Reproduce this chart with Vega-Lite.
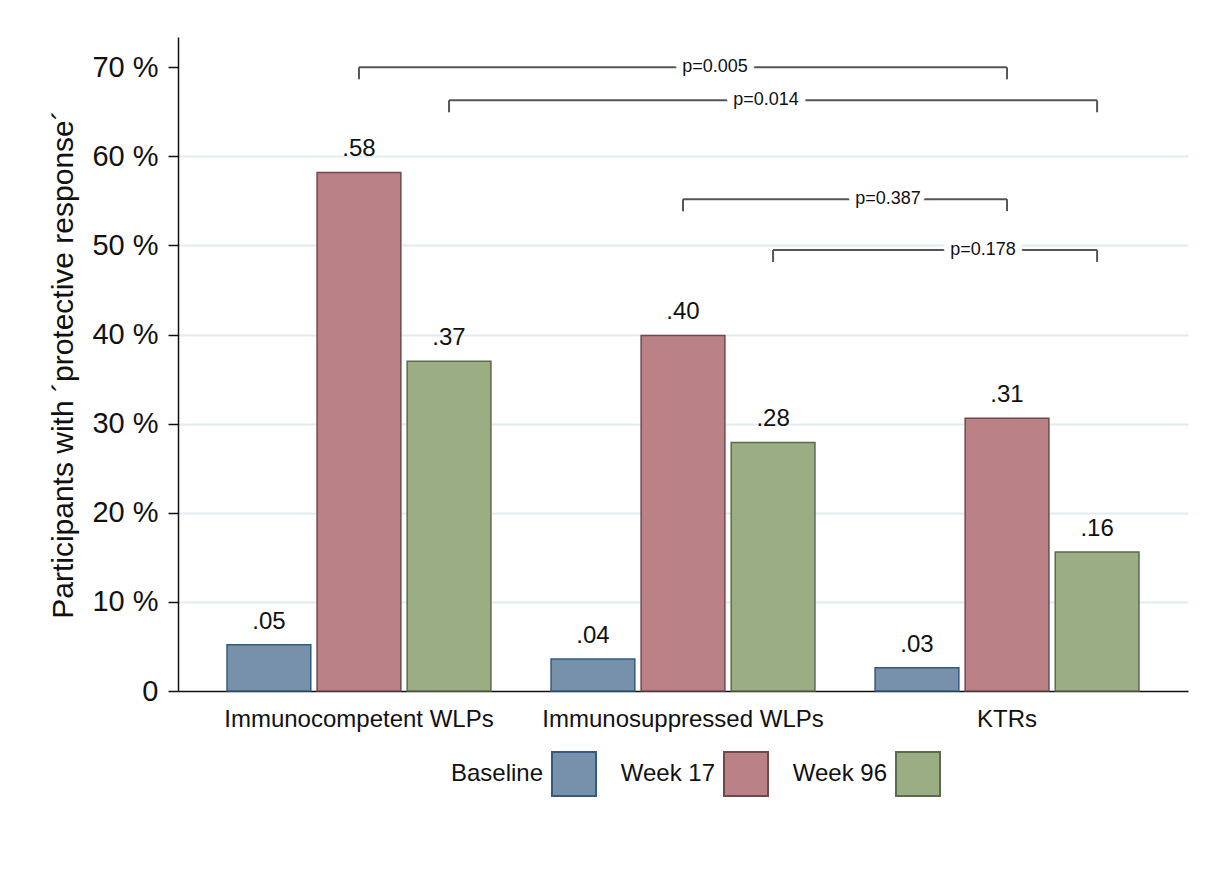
{
  "$schema": "https://vega.github.io/schema/vega-lite/v6.json",
  "width": 1010,
  "height": 654,
  "autosize": {"type": "none"},
  "padding": {"left": 178, "top": 37, "right": 23, "bottom": 191},
  "background": "white",
  "config": {
    "font": "Liberation Sans",
    "view": {"stroke": null}
  },
  "datasets": {
    "shares": [
      {"Group": "Immunocompetent WLPs", "Period": "Baseline", "Share": 0.052},
      {"Group": "Immunocompetent WLPs", "Period": "Week 17", "Share": 0.582},
      {"Group": "Immunocompetent WLPs", "Period": "Week 96", "Share": 0.370},
      {"Group": "Immunosuppressed WLPs", "Period": "Baseline", "Share": 0.036},
      {"Group": "Immunosuppressed WLPs", "Period": "Week 17", "Share": 0.399},
      {"Group": "Immunosuppressed WLPs", "Period": "Week 96", "Share": 0.279},
      {"Group": "KTRs", "Period": "Baseline", "Share": 0.026},
      {"Group": "KTRs", "Period": "Week 17", "Share": 0.306},
      {"Group": "KTRs", "Period": "Week 96", "Share": 0.156}
    ],
    "brackets": [
      {"bracket": "B1", "Group": "Immunocompetent WLPs", "Period": "Week 17", "level": 0.700},
      {"bracket": "B1", "Group": "KTRs", "Period": "Week 17", "level": 0.700},
      {"bracket": "B2", "Group": "Immunocompetent WLPs", "Period": "Week 96", "level": 0.663},
      {"bracket": "B2", "Group": "KTRs", "Period": "Week 96", "level": 0.663},
      {"bracket": "B3", "Group": "Immunosuppressed WLPs", "Period": "Week 17", "level": 0.552},
      {"bracket": "B3", "Group": "KTRs", "Period": "Week 17", "level": 0.552},
      {"bracket": "B4", "Group": "Immunosuppressed WLPs", "Period": "Week 96", "level": 0.495},
      {"bracket": "B4", "Group": "KTRs", "Period": "Week 96", "level": 0.495}
    ],
    "pvalues": [
      {"bracket": "B1", "p": "p=0.005", "Group": "Immunosuppressed WLPs", "Period": "Week 17", "level": 0.700},
      {"bracket": "B2", "p": "p=0.014", "Group": "Immunosuppressed WLPs", "Period": "Week 96", "level": 0.663},
      {"bracket": "B3", "p": "p=0.387", "Group": "KTRs", "Period": "Baseline", "level": 0.552},
      {"bracket": "B4", "p": "p=0.178", "Group": "KTRs", "Period": "Week 17", "level": 0.495}
    ]
  },
  "layer": [
    {
      "data": {"name": "shares"},
      "mark": {"type": "bar", "strokeWidth": 1.5},
      "encoding": {
        "x": {
          "field": "Group", "type": "nominal", "sort": null,
          "scale": {"paddingInner": 0.18, "paddingOuter": 0.1485},
          "axis": {
            "title": null, "labelAngle": 0, "labelFontSize": 24, "labelColor": "#111", "labelLimit": 500,
            "ticks": false, "labelPadding": 16, "domainColor": "#111", "domainWidth": 1.5
          }
        },
        "xOffset": {
          "field": "Period", "type": "nominal", "sort": null,
          "scale": {"paddingInner": 0.07, "paddingOuter": 0.01}
        },
        "y": {
          "field": "Share", "type": "quantitative",
          "scale": {"domain": [0, 0.734], "nice": false, "zero": true},
          "axis": {
            "title": "Participants with ´protective response´",
            "titleFontSize": 30, "titleFontWeight": "normal", "titleColor": "#111", "titlePadding": 13,
            "values": [0, 0.1, 0.2, 0.3, 0.4, 0.5, 0.6, 0.7],
            "labelExpr": "datum.value == 0 ? '0' : format(datum.value * 100, '.0f') + ' %'",
            "labelFontSize": 29, "labelColor": "#111", "labelPadding": 10,
            "tickSize": 10, "tickColor": "#111", "tickWidth": 1.5,
            "domainColor": "#111", "domainWidth": 1.5,
            "grid": true, "gridColor": "#e2ecef", "gridWidth": 2,
            "gridOpacity": {"condition": {"test": "datum.value == 0 || datum.value > 0.65", "value": 0}, "value": 1}
          }
        },
        "color": {
          "field": "Period", "type": "nominal",
          "scale": {"domain": ["Baseline", "Week 17", "Week 96"], "range": ["#7891aa", "#ba8286", "#9bad82"]},
          "legend": {
            "title": null, "orient": "none", "legendX": 373, "legendY": 714,
            "direction": "horizontal", "symbolType": "square", "symbolSize": 1936,
            "symbolStrokeWidth": 2, "symbolOpacity": 1,
            "labelFontSize": 24, "labelColor": "#111", "labelAlign": "right", "labelOffset": -54,
            "columnPadding": 20, "padding": 0, "labelLimit": 300
          }
        },
        "stroke": {
          "field": "Period", "type": "nominal",
          "scale": {"domain": ["Baseline", "Week 17", "Week 96"], "range": ["#335a80", "#6e4a4d", "#5d6a4e"]}
        }
      }
    },
    {
      "data": {"name": "shares"},
      "transform": [{"calculate": "substring(format(datum.Share, '.2f'), 1)", "as": "Label"}],
      "mark": {"type": "text", "fontSize": 24, "color": "#111", "baseline": "alphabetic", "dy": -16},
      "encoding": {
        "x": {"field": "Group", "type": "nominal", "sort": null},
        "xOffset": {"field": "Period", "type": "nominal", "sort": null},
        "y": {"field": "Share", "type": "quantitative", "scale": {"domain": [0, 0.734], "nice": false}},
        "text": {"field": "Label"}
      }
    },
    {
      "data": {"name": "brackets"},
      "mark": {"type": "line", "color": "#555", "strokeWidth": 2},
      "encoding": {
        "x": {"field": "Group", "type": "nominal", "sort": null},
        "xOffset": {"field": "Period", "type": "nominal", "sort": null},
        "y": {"field": "level", "type": "quantitative", "scale": {"domain": [0, 0.734], "nice": false}},
        "detail": {"field": "bracket"}
      }
    },
    {
      "data": {"name": "brackets"},
      "mark": {"type": "rule", "color": "#555", "strokeWidth": 2, "y2Offset": 12},
      "encoding": {
        "x": {"field": "Group", "type": "nominal", "sort": null},
        "xOffset": {"field": "Period", "type": "nominal", "sort": null},
        "y": {"field": "level", "type": "quantitative", "scale": {"domain": [0, 0.734], "nice": false}},
        "y2": {"field": "level"}
      }
    },
    {
      "data": {"name": "pvalues"},
      "encoding": {
        "x": {"field": "Group", "type": "nominal", "sort": null},
        "xOffset": {"field": "Period", "type": "nominal", "sort": null},
        "y": {"field": "level", "type": "quantitative", "scale": {"domain": [0, 0.734], "nice": false}},
        "text": {"field": "p"}
      },
      "layer": [
        {"transform": [{"filter": "datum.bracket == 'B1'"}], "mark": {"type": "text", "fontSize": 18, "baseline": "middle", "dx": 32, "color": "white", "stroke": "white", "strokeWidth": 14}},
        {"transform": [{"filter": "datum.bracket == 'B1'"}], "mark": {"type": "text", "fontSize": 18, "baseline": "middle", "dx": 32, "color": "#111"}},
        {"transform": [{"filter": "datum.bracket == 'B2'"}], "mark": {"type": "text", "fontSize": 18, "baseline": "middle", "dx": -7, "color": "white", "stroke": "white", "strokeWidth": 14}},
        {"transform": [{"filter": "datum.bracket == 'B2'"}], "mark": {"type": "text", "fontSize": 18, "baseline": "middle", "dx": -7, "color": "#111"}},
        {"transform": [{"filter": "datum.bracket == 'B3'"}], "mark": {"type": "text", "fontSize": 18, "baseline": "middle", "dx": -29, "color": "white", "stroke": "white", "strokeWidth": 14}},
        {"transform": [{"filter": "datum.bracket == 'B3'"}], "mark": {"type": "text", "fontSize": 18, "baseline": "middle", "dx": -29, "color": "#111"}},
        {"transform": [{"filter": "datum.bracket == 'B4'"}], "mark": {"type": "text", "fontSize": 18, "baseline": "middle", "dx": -24, "color": "white", "stroke": "white", "strokeWidth": 14}},
        {"transform": [{"filter": "datum.bracket == 'B4'"}], "mark": {"type": "text", "fontSize": 18, "baseline": "middle", "dx": -24, "color": "#111"}}
      ]
    }
  ]
}
